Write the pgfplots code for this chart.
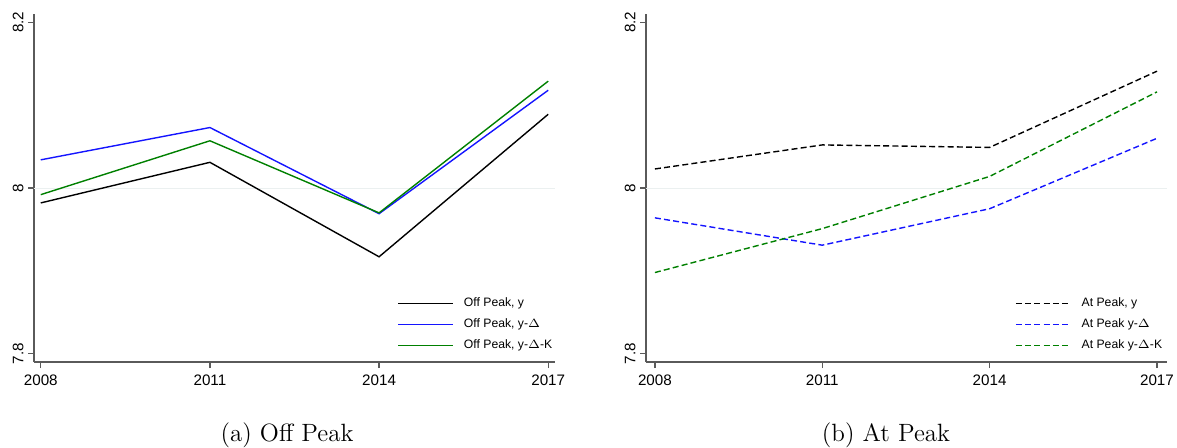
\documentclass[border=0pt]{standalone}
\usepackage{fontspec}
\usepackage{pgfplots}
\pgfplotsset{compat=1.18}
\newfontfamily\arial{Liberation Sans}
\definecolor{myblue}{RGB}{20,20,255}
\definecolor{mygreen}{RGB}{0,128,0}
\definecolor{axgray}{RGB}{90,90,90}
\definecolor{gridc}{RGB}{235,240,240}

\pgfplotsset{legend image code/.code={\draw[#1] (0pt,0pt) -- (27.5pt,0pt); \path (30.5pt,0pt);}}
\pgfplotsset{panel/.style={
 scale only axis, width=260.5pt, height=174pt,
 axis x line*=bottom, axis y line*=left,
 xmin=2007.88, xmax=2017.12, ymin=7.79, ymax=8.21,
 xtick={2008,2011,2014,2017}, ytick={7.8,8,8.2},
 /pgf/number format/set thousands separator={},
 /pgf/number format/assume math mode=true,
 tick align=outside, major tick length=3pt,
 tick style={axgray, line width=0.6pt},
 axis line style={axgray, line width=0.6pt},
 ticklabel style={font=\arial\fontsize{7.6}{8}\selectfont, text=black},
 yticklabel style={rotate=90, anchor=south, inner sep=2pt},
 legend style={draw=none, fill=none, font=\arial\fontsize{6.1}{7}\selectfont,
   legend cell align=left, row sep=0.6pt, anchor=north west, inner sep=0pt},
}}

\pgfplotstableread{
year y yd ydk
2008 7.982 8.034 7.992
2011 8.031 8.073 8.057
2014 7.917 7.969 7.970
2017 8.089 8.118 8.129
}\offpeak

\pgfplotstableread{
year y yd ydk
2008 8.023 7.964 7.898
2011 8.052 7.931 7.951
2014 8.049 7.975 8.014
2017 8.141 8.060 8.116
}\atpeak

\begin{document}
\begin{tikzpicture}
\useasboundingbox (0,0) rectangle (588.5pt,223.5pt);
\begin{axis}[panel, anchor=south west, at={(17pt,42.5pt)},
  legend style={at={(0.697,0.198)}}]
\addplot[gridc, line width=0.5pt, forget plot] coordinates {(2007.88,8) (2017.12,8)};
\addplot[black, line width=0.7pt] table[x=year,y=y] {\offpeak};
\addplot[myblue, line width=0.7pt] table[x=year,y=yd] {\offpeak};
\addplot[mygreen, line width=0.7pt] table[x=year,y=ydk] {\offpeak};
\legend{{Off Peak, y}, {Off Peak, y-$\Delta$}, {Off Peak, y-$\Delta$-K}}
\end{axis}
\begin{axis}[panel, anchor=south west, at={(323pt,42.5pt)},
  xmin=2007.84, xmax=2017.18,
  legend style={at={(0.708,0.198)}}]
\addplot[gridc, line width=0.5pt, forget plot] coordinates {(2007.84,8) (2017.18,8)};
\addplot[black, dash pattern=on 3pt off 1.6pt, line width=0.7pt] table[x=year,y=y] {\atpeak};
\addplot[myblue, dash pattern=on 3pt off 1.6pt, line width=0.7pt] table[x=year,y=yd] {\atpeak};
\addplot[mygreen, dash pattern=on 3pt off 1.6pt, line width=0.7pt] table[x=year,y=ydk] {\atpeak};
\legend{{At Peak, y}, {At Peak y-$\Delta$}, {At Peak y-$\Delta$-K}}
\end{axis}
\node[anchor=base, font=\fontsize{12.5}{14}\selectfont] at (143.5pt,3pt) {(a)\ Off Peak};
\node[anchor=base, font=\fontsize{12.5}{14}\selectfont] at (443pt,3pt) {(b)\ At Peak};
\end{tikzpicture}
\end{document}
